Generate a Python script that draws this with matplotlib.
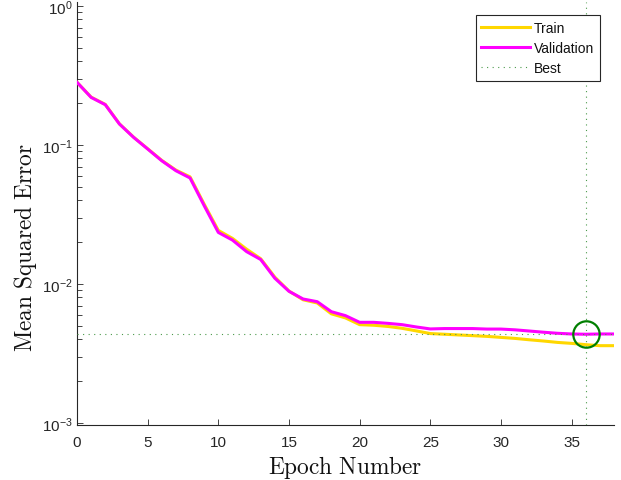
import matplotlib
matplotlib.use("Agg")
import matplotlib.pyplot as plt
import numpy as np

epochs = list(range(0, 39))
train_mse = [0.2825, 0.221, 0.196, 0.142, 0.114, 0.0940, 0.0775, 0.0660, 0.0590, 0.0375,
             0.0243, 0.0213, 0.0178, 0.0152, 0.0112, 0.0089, 0.0077, 0.0073, 0.0061, 0.0057,
             0.0051, 0.00505, 0.00495, 0.0048, 0.0046, 0.0044, 0.00435, 0.0043, 0.00425, 0.0042,
             0.00413, 0.00406, 0.00397, 0.00389, 0.0038, 0.00374, 0.00366, 0.0036, 0.0036]
val_mse = [0.2825, 0.220, 0.195, 0.1417, 0.1136, 0.0936, 0.077, 0.0653, 0.0579, 0.0366,
           0.0235, 0.0207, 0.0171, 0.0150, 0.0110, 0.00886, 0.0078, 0.00746, 0.00632, 0.00592,
           0.0053, 0.0053, 0.00521, 0.0051, 0.00491, 0.00475, 0.00478, 0.00478, 0.00478, 0.00474,
           0.00474, 0.00468, 0.00459, 0.0045, 0.00442, 0.00437, 0.00435, 0.00437, 0.00437]
best_epoch = 36
best_val = 0.00435
x_ticks = [0, 5, 10, 15, 20, 25, 30, 35]

plt.rcParams['font.family'] = ['Liberation Sans', 'DejaVu Sans']
axc = '#262626'

fig = plt.figure(figsize=(6.21, 4.81), dpi=100)
ax = fig.add_axes([77/621, 1 - 426/481, (614-77)/621, (426-3)/481])

ax.plot(epochs, train_mse, color='#FFD700', lw=2.2, label='Train', zorder=3)
ax.plot(epochs, val_mse, color='#FF00FF', lw=2.2, label='Validation', zorder=4)
best_c = '#4a9a4a'
ax.axhline(best_val, color=best_c, lw=0.8, ls=(0, (1, 4)), zorder=5, label='Best')
ax.axvline(best_epoch, color=best_c, lw=0.8, ls=(0, (1, 4)), zorder=5)
ax.plot([best_epoch], [best_val], marker='o', ms=19, mfc='none', mec='#007f00', mew=1.6,
        zorder=6, ls='none')

ax.set_yscale('log')
ax.set_xlim(0, 38)
ax.set_ylim(10**(-3 - 2/139), 10**(4/139))
ax.set_xticks(x_ticks)
ax.set_yticks([1e-3, 1e-2, 1e-1, 1e0])

for s in ['top', 'right']:
    ax.spines[s].set_visible(False)
for s in ['left', 'bottom']:
    ax.spines[s].set_color(axc)
    ax.spines[s].set_linewidth(0.8)

ax.tick_params(which='both', direction='in', color=axc, width=0.6, labelcolor=axc,
               labelsize=11)
ax.tick_params(which='major', length=4)
ax.tick_params(which='minor', length=3.5)
ax.tick_params(axis='x', pad=7)
ax.tick_params(axis='y', pad=3)

ax.set_xlabel(r'$\mathrm{Epoch\ Number}$', fontsize=16.8, math_fontfamily='cm', color='#111111',
              labelpad=3)
ax.set_ylabel(r'$\mathrm{Mean\ Squared\ Error}$', fontsize=16.8, math_fontfamily='cm',
              color='#111111')
ax.yaxis.set_label_coords(39/621, 1 - 248/481, transform=fig.transFigure)

leg = ax.legend(loc='upper right', bbox_to_anchor=(600/621, 1 - 16/481),
                bbox_transform=fig.transFigure, borderaxespad=0, fontsize=10,
                handlelength=3.5, handletextpad=0.3, labelspacing=0.45, borderpad=0.4,
                fancybox=False, framealpha=1, edgecolor=axc)
leg.get_frame().set_linewidth(0.8)
for t in leg.get_texts():
    t.set_color('#111111')

fig.savefig('out.png', dpi=100)
